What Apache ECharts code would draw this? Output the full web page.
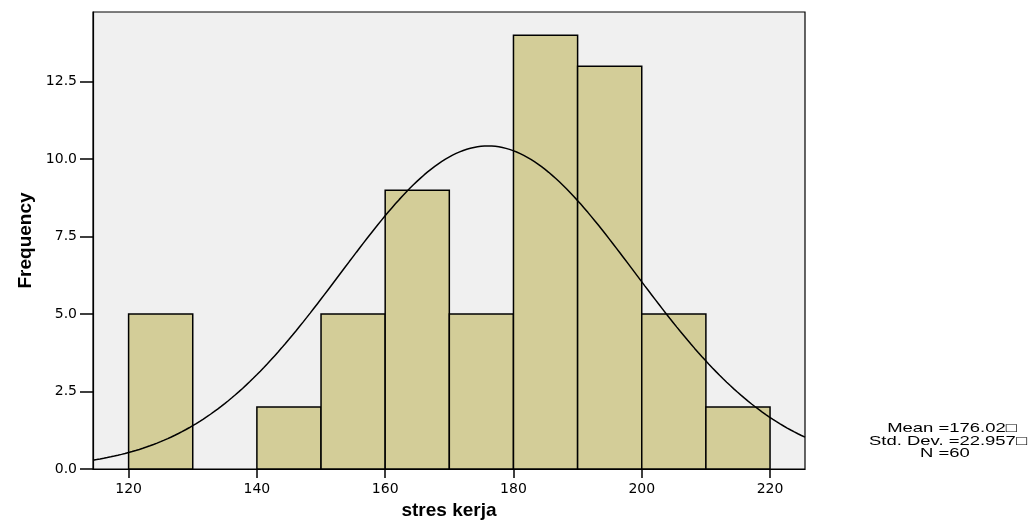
<!DOCTYPE html>
<html>
<head>
<meta charset="utf-8">
<script src="https://cdn.jsdelivr.net/npm/echarts@6/dist/echarts.min.js"></script>
<style>html,body{margin:0;padding:0;background:#fff;}#c{width:1034px;height:525px;}</style>
</head>
<body>
<div id="c"></div>
<script>
// Data
const binStarts = [120, 130, 140, 150, 160, 170, 180, 190, 200, 210];
const binWidth = 10;
const frequencies = [5, 0, 2, 5, 9, 5, 14, 13, 5, 2];
const xTicks = [120, 140, 160, 180, 200, 220];
const yTicks = [0, 2.5, 5, 7.5, 10, 12.5];
const statMean = 176.02;
const statStd = 22.957;
const statN = 60;
const xMin = 114.45, xMax = 225.45, yMax = 14.75;

// Normal curve implied by the reported mean / std. dev / N
const curve = [];
for (let i = 0; i <= 200; i++) {
  const x = xMin + (xMax - xMin) * i / 200;
  const z = (x - statMean) / statStd;
  const y = statN * binWidth * Math.exp(-0.5 * z * z) / (statStd * Math.sqrt(2 * Math.PI));
  curve.push([x, y]);
}
const bars = binStarts.map((s, i) => [s, s + binWidth, frequencies[i]]).filter(d => d[2] > 0);

const font = 'Liberation Sans, Arial, Helvetica, sans-serif';
const tickFont = 'DejaVu Sans, sans-serif';
const chart = echarts.init(document.getElementById('c'), null, {renderer: 'canvas'});
const legendStyle = {fontFamily: font, fontSize: 13, fill: '#000', align: 'center', verticalAlign: 'middle'};
chart.setOption({
  animation: false,
  grid: {left: 93, top: 12, right: 229, bottom: 56, show: true, backgroundColor: '#f0f0f0', borderColor: '#000', borderWidth: 1.2},
  xAxis: {
    type: 'value', min: xMin, max: xMax,
    name: 'stres kerja', nameLocation: 'middle', nameGap: 31,
    nameTextStyle: {fontFamily: font, fontSize: 19, fontWeight: 'bold', color: '#000'},
    axisLine: {show: true, lineStyle: {color: '#000', width: 1.2}},
    axisTick: {show: true, length: 9, lineStyle: {color: '#000', width: 1.5}, customValues: xTicks},
    axisLabel: {fontFamily: tickFont, fontSize: 14, color: '#000', margin: 13, customValues: xTicks},
    splitLine: {show: false}
  },
  yAxis: {
    type: 'value', min: 0, max: yMax,
    name: 'Frequency', nameLocation: 'middle', nameGap: 58, nameRotate: 90,
    nameTextStyle: {fontFamily: font, fontSize: 19, fontWeight: 'bold', color: '#000'},
    axisLine: {show: true, lineStyle: {color: '#000', width: 1.2}},
    axisTick: {show: true, length: 13, lineStyle: {color: '#000', width: 1.5}, customValues: yTicks},
    axisLabel: {fontFamily: tickFont, fontSize: 14, color: '#000', margin: 16, customValues: yTicks,
      formatter: v => v.toFixed(1)},
    splitLine: {show: false}
  },
  series: [
    {
      type: 'custom',
      data: bars,
      encode: {x: [0, 1], y: 2},
      renderItem: function (params, api) {
        const p0 = api.coord([api.value(0), 0]);
        const p1 = api.coord([api.value(1), api.value(2)]);
        return {
          type: 'rect',
          shape: {x: p0[0], y: p1[1], width: p1[0] - p0[0], height: p0[1] - p1[1]},
          style: {fill: '#d3cd98', stroke: '#000', lineWidth: 1.5}
        };
      },
      z: 2
    },
    {
      type: 'line', data: curve, showSymbol: false, symbol: 'none',
      lineStyle: {color: '#000', width: 1.5}, z: 3, clip: true
    }
  ],
  graphic: [
    {type: 'text', x: 952, y: 428, scaleX: 1.42, style: Object.assign({text: 'Mean =' + statMean.toFixed(2) + '\u25A1'}, legendStyle)},
    {type: 'text', x: 948, y: 441, scaleX: 1.42, style: Object.assign({text: 'Std. Dev. =' + statStd.toFixed(3) + '\u25A1'}, legendStyle)},
    {type: 'text', x: 945, y: 453, scaleX: 1.42, style: Object.assign({text: 'N =' + statN}, legendStyle)}
  ]
});
</script>
</body>
</html>
